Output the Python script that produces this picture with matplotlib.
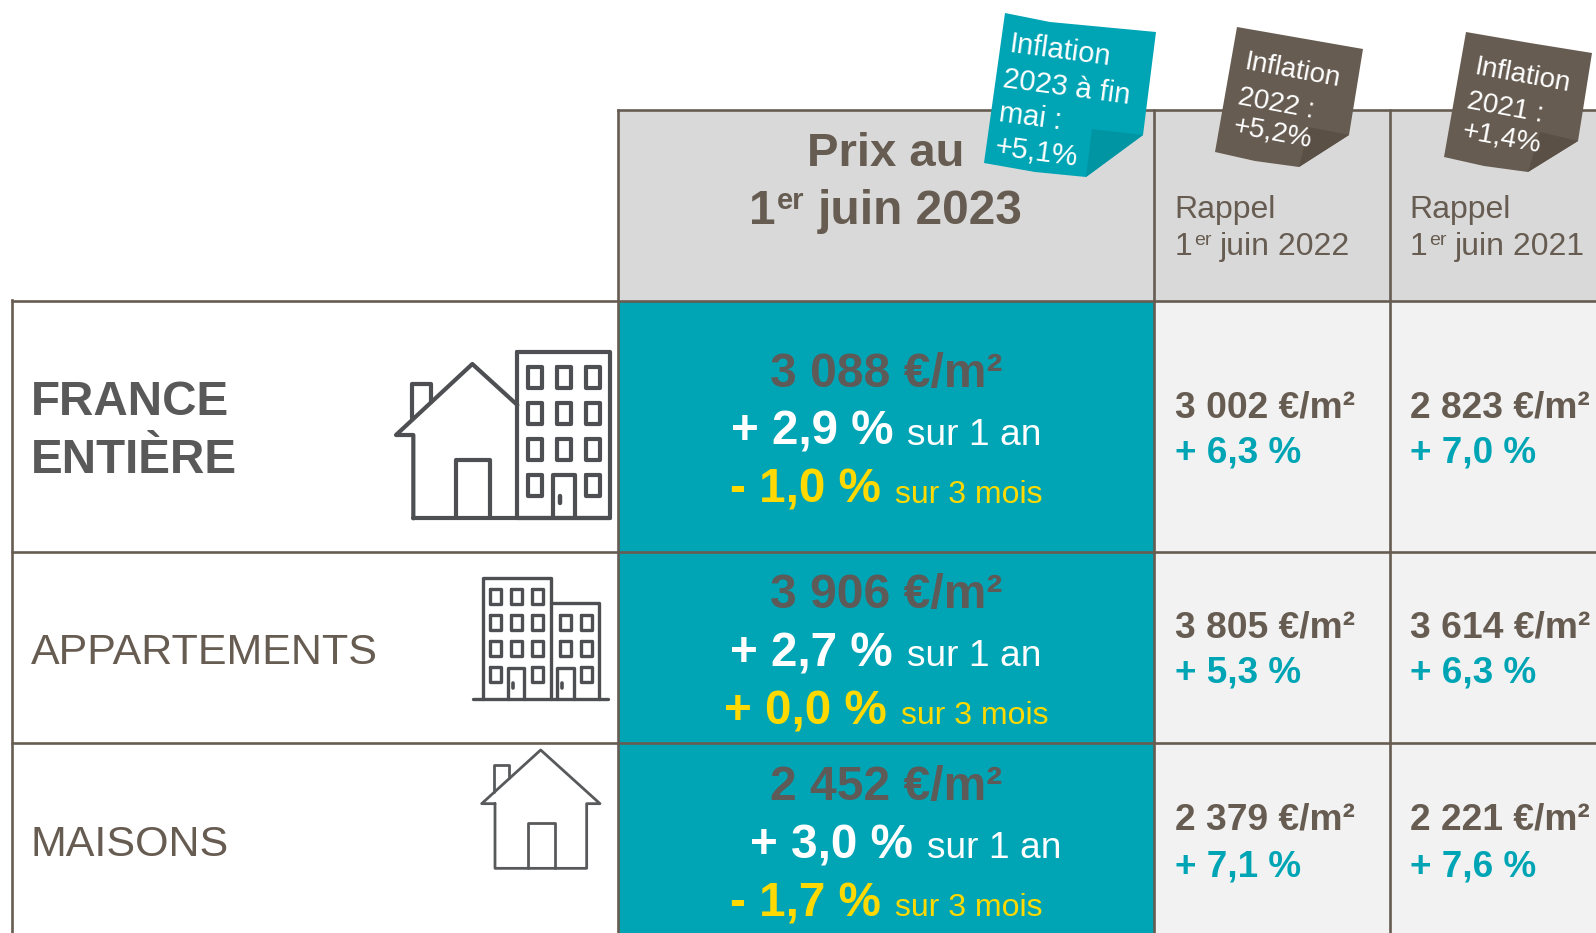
import matplotlib
matplotlib.use('Agg')
import matplotlib.pyplot as plt
from matplotlib.patches import Polygon, Rectangle

plt.rcParams['font.family'] = ['Liberation Sans', 'DejaVu Sans']

# Donnees du tableau
rows = ['APPARTEMENTS', 'MAISONS']
prix_2023 = ['3 088 €/m²', '3 906 €/m²', '2 452 €/m²']
var_1an = ['+ 2,9 %', '+ 2,7 %', '+ 3,0 %']
var_3mois = ['- 1,0 %', '+ 0,0 %', '- 1,7 %']
prix_2022 = ['3 002 €/m²', '3 805 €/m²', '2 379 €/m²']
var_2022 = ['+ 6,3 %', '+ 5,3 %', '+ 7,1 %']
prix_2021 = ['2 823 €/m²', '3 614 €/m²', '2 221 €/m²']
var_2021 = ['+ 7,0 %', '+ 6,3 %', '+ 7,6 %']
inflation_2023 = ['Inflation', '2023 à fin', 'mai :', '+5,1%']
inflation_2022 = ['Inflation', '2022 :', '+5,2%']
inflation_2021 = ['Inflation', '2021 :', '+1,4%']

TEAL = '#00A5B5'
BROWN = '#675C51'
GREY_TXT = '#5E5A58'
YELLOW = '#FFD900'
ICON = '#4D4F52'

fig = plt.figure(figsize=(15.96, 9.33), dpi=100)
ax = fig.add_axes([0, 0, 1, 1])
ax.set_xlim(0, 1596)
ax.set_ylim(933, 0)
ax.axis('off')
renderer = fig.canvas.get_renderer()


def rich_line(x, y, segments, center=True, gap=14):
    # segments : (texte, taille, couleur, gras, decalage vertical, espace avant)
    items = []
    total = 0
    for seg in segments:
        t = ax.text(x, y, seg[0], fontsize=seg[1], color=seg[2], va='baseline', ha='left',
                    fontweight='bold' if seg[3] else 'normal', zorder=6)
        w = t.get_window_extent(renderer).width
        before = seg[5] if len(seg) > 5 else (gap if items else 0)
        items.append((t, w, before, seg[4] if len(seg) > 4 else 0))
        total += w + before
    cur = x - total / 2 if center else x
    for t, w, before, rise in items:
        cur += before
        t.set_position((cur, y - rise))
        cur += w


def sticker(poly, fold, color, dark, lines, rotation, fontsize):
    ax.add_patch(Polygon(poly, closed=True, fc=color, ec='none', zorder=4))
    ax.add_patch(Polygon(fold, closed=True, fc=dark, ec='none', zorder=5))
    for (x, y), s in zip(lines[0], lines[1]):
        ax.text(x, y, s, fontsize=fontsize, color='white', rotation=rotation, rotation_mode='anchor',
                ha='left', va='baseline', zorder=6)


def path(points, lw, color=ICON, ox=0, oy=0, closed=False):
    xs = [ox + p[0] / 3 for p in points]
    ys = [oy + p[1] / 3 for p in points]
    if closed:
        xs.append(xs[0])
        ys.append(ys[0])
    ax.plot(xs, ys, color=color, lw=lw, solid_joinstyle='round', solid_capstyle='round', zorder=3)


def box(x0, y0, x1, y1, lw, color=ICON, ox=0, oy=0):
    path([(x0, y0), (x1, y0), (x1, y1), (x0, y1)], lw, color, ox, oy, closed=True)


# Fonds
ax.add_patch(Rectangle((618, 110), 978, 191, fc='#D9D9D9', ec='none', zorder=1))
ax.add_patch(Rectangle((1154, 301), 442, 632, fc='#F2F2F2', ec='none', zorder=1))
ax.add_patch(Rectangle((618, 301), 536, 632, fc=TEAL, ec='none', zorder=1))

# Grille
LW = 1.9
ax.plot([618, 1596], [110, 110], color=BROWN, lw=LW, zorder=2)
for y in [301, 552, 743]:
    ax.plot([11, 1596], [y, y], color=BROWN, lw=LW, zorder=2, solid_capstyle='butt')
ax.plot([11.5, 11.5], [300, 933], color=BROWN, lw=LW, zorder=2)
for x in [618, 1154, 1390]:
    ax.plot([x, x], [109, 933], color=BROWN, lw=LW, zorder=2, solid_capstyle='butt')

# En-tetes
ax.text(886, 166, 'Prix au', fontsize=34, fontweight='bold', color=BROWN, ha='center', va='baseline', zorder=6)
rich_line(886, 224, [('1', 34.5, BROWN, True), ('er', 21, BROWN, True, 15, 1), ('juin 2023', 34.5, BROWN, True, 0, 13)])
for x, an in zip([1174, 1409], ['1er juin 2022', '1er juin 2021']):
    ax.text(x, 218, 'Rappel', fontsize=23, color=BROWN, ha='left', va='baseline', zorder=6)
    rich_line(x + 1, 255, [('1', 23, BROWN, False), ('er', 14, BROWN, False, 10, 1), (an[4:], 23, BROWN, False, 0, 9)], center=False)

# Etiquettes de lignes
ax.text(31, 415, 'FRANCE', fontsize=34.3, fontweight='bold', color='#595959', va='baseline', zorder=6)
ax.text(31, 473, 'ENTIÈRE', fontsize=34.3, fontweight='bold', color='#595959', va='baseline', zorder=6)
for s, y, x in zip(rows, [664, 856], [31, 30]):
    ax.text(x, y, s, fontsize=31, color=BROWN, va='baseline', zorder=6)

# Colonne principale
base_prix = [387, 608, 800]
dx_1an = [0, 0, 20]
for i in range(3):
    y0 = base_prix[i]
    ax.text(886, y0, prix_2023[i], fontsize=34.6, fontweight='bold', color=GREY_TXT, ha='center', va='baseline', zorder=6)
    rich_line(886 + dx_1an[i], y0 + 58, [(var_1an[i], 34.3, 'white', True), ('sur 1 an', 26.7, 'white', False)])
    rich_line(886, y0 + 116, [(var_3mois[i], 34.3, YELLOW, True), ('sur 3 mois', 23, YELLOW, False)])

# Colonnes de rappel
for x, prix, var in [(1175, prix_2022, var_2022), (1410, prix_2021, var_2021)]:
    for i, y in enumerate([417, 637, 830]):
        ax.text(x, y, prix[i], fontsize=26.8, fontweight='bold', color=BROWN, va='baseline', zorder=6)
        ax.text(x, y + 46, var[i], fontsize=26.6, fontweight='bold', color=TEAL, va='baseline', zorder=6)

# Pastilles inflation
sticker([(1005, 13), (1050, 22), (1156, 32), (1143, 135), (1086, 177), (1035, 172), (984, 163)],
        [(1092, 129), (1143, 135), (1086, 177)], TEAL, '#0095A3',
        ([(1008, 52), (1002, 87), (998, 121), (994, 155)], inflation_2023), -7.6, 21)
sticker([(1237, 27), (1300, 38), (1363, 49), (1349, 135), (1299, 167), (1255, 161), (1215, 152)],
        [(1309, 127), (1349, 135), (1299, 167)], BROWN, '#5A5046',
        ([(1244, 69), (1237, 104), (1232, 133)], inflation_2022), -10.5, 20)
sticker([(1466, 32), (1530, 43), (1592, 53), (1578, 141), (1528, 172), (1484, 166), (1444, 157)],
        [(1540, 132), (1578, 141), (1528, 172)], BROWN, '#5A5046',
        ([(1473, 74), (1466, 108), (1461, 138)], inflation_2021), -10.5, 20)

# Icone maison + immeuble
o1 = dict(ox=380, oy=340)
w1 = 3.0
path([(97, 235), (97, 132), (152, 132), (152, 185)], w1, **o1)
path([(100, 535), (100, 285), (48, 285), (277, 72), (412, 195)], w1, **o1)
path([(100, 535), (690, 535)], w1, **o1)
path([(228, 535), (228, 360), (330, 360), (330, 535)], w1, **o1)
box(412, 35, 690, 535, w1, **o1)
for wy0, wy1 in [(82, 145), (190, 252), (297, 360), (405, 467)]:
    for wx0, wx1 in [(445, 487), (530, 572), (617, 660)]:
        if wy0 == 405 and wx0 == 530:
            continue
        box(wx0, wy0, wx1, wy1, w1, **o1)
path([(520, 535), (520, 405), (585, 405), (585, 535)], w1, **o1)
path([(540, 468), (540, 488)], 3.2, **o1)

# Icone appartements
o2 = dict(ox=460, oy=565)
w2 = 2.4
path([(40, 403), (445, 403)], w2, **o2)
path([(68, 403), (68, 38), (272, 38), (272, 403)], w2, **o2)
path([(272, 115), (417, 115), (417, 403)], w2, **o2)
for wy0, wy1 in [(72, 118), (150, 196), (228, 274), (306, 352)]:
    for wx0, wx1 in [(90, 122), (153, 185), (216, 248)]:
        if wy0 == 306 and wx0 == 153:
            continue
        box(wx0, wy0, wx1, wy1, w2, **o2)
for wy0, wy1 in [(150, 196), (228, 274), (306, 352)]:
    box(363, wy0, 397, wy1, w2, **o2)
    if wy0 != 306:
        box(300, wy0, 333, wy1, w2, **o2)
path([(145, 403), (145, 308), (193, 308), (193, 403)], w2, **o2)
path([(292, 403), (292, 308), (342, 308), (342, 403)], w2, **o2)
path([(160, 354), (160, 370)], 2.6, **o2)
path([(307, 354), (307, 370)], 2.6, **o2)

# Icone maison
w3 = 2.0
o3 = dict(ox=460, oy=565, color='#58595B')
path([(103, 680), (103, 600), (147, 600), (147, 640)], w3, **o3)
path([(105, 716), (65, 716), (242, 555), (420, 716), (380, 716), (380, 910), (105, 910), (105, 716)], w3, **o3)
path([(204, 910), (204, 775), (284, 775), (284, 910)], w3, **o3)

fig.savefig('out.png', dpi=100, facecolor='white')
